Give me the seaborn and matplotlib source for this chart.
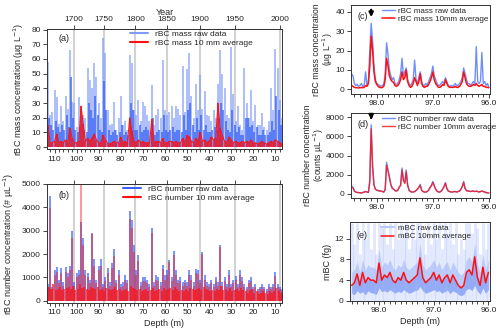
import numpy as np
import pandas as pd
import matplotlib
matplotlib.use('Agg')
import matplotlib.pyplot as plt
import seaborn as sns
from matplotlib.ticker import MultipleLocator, FormatStrFormatter

# ---- long record, one value per metre, depth 113 m -> 7 m ----
depth_ab = np.arange(113, 6, -1)

mass_raw = [58, 22, 24, 39, 34, 16, 28, 18, 35, 26,
            66, 31, 30, 14, 34, 25, 22, 20, 54, 46,
            40, 57, 48, 30, 20, 74, 64, 25, 15, 16,
            31, 12, 20, 35, 15, 18, 12, 63, 57, 25,
            22, 32, 18, 31, 28, 22, 18, 42, 15, 22,
            26, 20, 59, 25, 22, 24, 28, 20, 28, 26,
            22, 55, 24, 53, 64, 35, 20, 43, 25, 49,
            26, 38, 22, 21, 18, 25, 20, 43, 66, 50,
            40, 22, 20, 68, 36, 18, 28, 15, 12, 54,
            30, 20, 39, 18, 29, 15, 15, 23, 14, 12,
            18, 40, 25, 67, 54, 32, 20]
mass_core = [20, 15, 12, 18, 14, 10, 15, 12, 22, 14,
             48, 20, 12, 10, 14, 20, 12, 10, 30, 25,
             20, 35, 22, 12, 10, 45, 25, 12, 8, 10,
             12, 8, 10, 15, 8, 10, 8, 30, 25, 12,
             12, 15, 10, 12, 14, 12, 10, 20, 8, 10,
             12, 10, 22, 12, 10, 12, 14, 10, 12, 12,
             10, 22, 12, 25, 30, 15, 10, 20, 12, 22,
             12, 15, 10, 10, 12, 14, 12, 20, 30, 25,
             18, 12, 10, 25, 15, 10, 14, 8, 8, 20,
             20, 14, 15, 10, 14, 8, 8, 12, 8, 8,
             10, 18, 12, 35, 25, 15, 10]
mass_avg = [15, 3, 3, 4, 9, 3, 4, 3, 5, 3,
            13, 6, 3, 3, 4, 28, 16, 4, 6, 4,
            6, 9, 5, 3, 3, 8, 5, 3, 2, 3,
            4, 3, 3, 7, 3, 4, 2, 20, 11, 4,
            3, 5, 3, 4, 3, 3, 3, 19, 3, 4,
            4, 3, 6, 3, 3, 4, 4, 3, 4, 3,
            3, 6, 3, 8, 7, 4, 3, 6, 4, 10,
            4, 5, 3, 4, 7, 5, 6, 30, 13, 8,
            4, 3, 7, 5, 3, 4, 3, 3, 4, 3,
            4, 3, 5, 3, 3, 2, 3, 4, 3, 2,
            3, 4, 3, 5, 4, 3, 2]

num_raw = [700, 4500, 600, 1300, 1450, 900, 1400, 800, 1450, 1200,
           1500, 3000, 800, 1200, 1300, 3350, 2700, 1300, 1200, 900,
           2900, 1800, 900, 1500, 1800, 700, 1000, 1400, 800, 1600,
           2200, 900, 1300, 700, 800, 1100, 900, 3850, 3450, 2400,
           1300, 1950, 800, 1000, 1000, 900, 700, 3100, 800, 1100,
           1000, 800, 1550, 1100, 1300, 1750, 1000, 2150, 1300, 900,
           1000, 800, 900, 800, 1300, 1100, 800, 1350, 1300, 900,
           2100, 1100, 800, 700, 900, 700, 1000, 800, 2400, 800,
           1000, 700, 1300, 700, 900, 1050, 700, 1300, 1000, 700,
           600, 900, 1000, 600, 700, 500, 600, 700, 600, 500,
           700, 600, 700, 1250, 700, 600, 500]
num_avg = [600, 3950, 500, 1100, 1250, 750, 1200, 650, 1250, 1000,
           1300, 2700, 650, 1000, 1100, 5100, 2400, 1100, 1000, 750,
           2850, 1500, 750, 1300, 1500, 600, 850, 1200, 650, 1400,
           1900, 750, 1100, 600, 650, 900, 750, 3500, 3100, 2100,
           1100, 1700, 650, 850, 850, 750, 600, 2900, 650, 900,
           850, 650, 1350, 900, 1100, 1650, 850, 1950, 1100, 750,
           850, 650, 750, 650, 1100, 900, 650, 1200, 1150, 750,
           2000, 900, 650, 600, 750, 600, 850, 650, 2300, 650,
           850, 600, 1100, 600, 750, 900, 600, 1100, 850, 600,
           500, 750, 850, 500, 600, 400, 500, 600, 500, 400,
           600, 500, 600, 1050, 600, 500, 400]
num_core = [600, 500, 700, 450, 500, 600, 450, 500, 550, 600,
            500, 650, 450, 500, 700, 550, 600, 500, 450, 600,
            550, 500, 600, 450, 500, 400, 550, 500, 450, 500,
            600, 450, 500, 400, 450, 500, 400, 650, 550, 500,
            450, 500, 400, 450, 500, 400, 450, 550, 400, 450,
            500, 400, 550, 450, 500, 550, 450, 600, 500, 400,
            450, 400, 500, 400, 550, 500, 450, 500, 550, 450,
            600, 500, 450, 400, 450, 400, 500, 450, 650, 450,
            500, 400, 550, 400, 450, 500, 400, 550, 450, 400,
            350, 450, 500, 350, 400, 300, 350, 400, 350, 300,
            400, 350, 400, 550, 400, 350, 300]

years = [1700, 1750, 1800, 1850, 1900, 1950, 2000]
year_depth = [101.2, 87.8, 73.4, 59.0, 44.0, 28.4, 8.0]

# ---- zoomed section 98.45 -> 96.00 m, step 0.025 m ----
depth_cd = np.round(np.arange(98.45, 95.99, -0.025), 3)
c_raw = [8, 7, 3, 2, 2.5, 1.5, 2, 3, 1.5, 2,
         9, 2, 4, 20, 34, 25, 12, 5, 3, 2.5,
         2, 1.5, 2, 2.5, 8, 24, 18, 10, 7, 5,
         6, 3, 2.5, 3, 5, 8, 16, 7, 9, 11,
         5, 3, 2, 3, 5, 15, 5, 3, 6, 9,
         4, 2, 2, 3, 2, 4, 6, 8, 12, 7,
         5, 3, 2, 2, 3, 4, 3, 6, 4, 2,
         1.5, 2, 1.5, 2, 3, 2, 2, 3, 4, 6,
         11, 8, 5, 3, 3, 2, 3, 4, 3, 22,
         4, 3, 4, 19, 3, 4, 2, 3, 1]
c_avg = [2, 1.5, 1, 0.8, 0.8, 0.7, 0.8, 1, 0.8, 1,
         2, 1.5, 3, 12, 27.5, 20, 9, 4, 2.5, 1.5,
         1, 0.8, 1, 1.5, 5, 16, 12, 7, 5, 4,
         3.5, 2, 1.5, 2, 3, 5, 9, 5, 6, 10,
         4, 2, 1, 1.5, 3, 6, 4, 2, 4, 8,
         3, 1.5, 1, 1.5, 1.5, 2.5, 4, 6, 9, 5,
         3, 2, 1, 1, 1.5, 2.5, 2, 5, 3, 1.5,
         1, 1, 1, 1, 1.5, 1, 1, 1.5, 2.5, 4,
         9, 6, 3, 2, 1.5, 1.5, 2, 2.5, 2, 3,
         2, 1.5, 2, 2.5, 1.5, 1.5, 1, 1, 0.8]
d_raw = [800, 700, 300, 200, 150, 150, 120, 100, 150, 200,
         250, 200, 150, 1500, 7200, 3000, 1000, 500, 400, 350,
         300, 300, 250, 200, 500, 3300, 2500, 1800, 1000, 600,
         500, 350, 300, 400, 700, 900, 2700, 1500, 1200, 2500,
         1000, 400, 250, 200, 200, 250, 350, 500, 700, 1000,
         400, 250, 200, 200, 250, 400, 700, 900, 1300, 900,
         500, 300, 200, 200, 300, 500, 800, 1200, 600, 300,
         250, 200, 200, 250, 250, 200, 250, 300, 500, 800,
         1300, 600, 350, 300, 300, 250, 300, 300, 250, 300,
         250, 200, 250, 300, 250, 200, 150, 120, 100]
d_avg = [700, 650, 300, 200, 150, 150, 120, 100, 150, 200,
         250, 200, 150, 1200, 6800, 2800, 900, 500, 400, 350,
         300, 300, 250, 200, 450, 3000, 2400, 1700, 1000, 600,
         500, 350, 300, 400, 700, 900, 2500, 1400, 1100, 2300,
         900, 400, 250, 200, 200, 250, 350, 500, 700, 900,
         400, 250, 200, 200, 250, 400, 650, 850, 1200, 850,
         500, 300, 200, 200, 300, 500, 750, 1100, 550, 300,
         250, 200, 200, 250, 250, 200, 250, 300, 450, 750,
         1200, 550, 350, 300, 300, 250, 300, 300, 250, 300,
         250, 200, 250, 300, 250, 200, 150, 120, 100]

# ---- mBC section 98.50 -> 96.00 m, step 0.05 m ----
depth_e = np.round(np.arange(98.50, 95.99, -0.05), 2)
e_avg = [3, 3.5, 5.2, 3, 5.5, 3.5, 4.5, 4, 4, 3.5,
         7.3, 4, 5, 4.5, 5.5, 4, 3.5, 4.5, 4, 5.5,
         4, 3.5, 4, 4.5, 5, 8.3, 4.5, 3.5, 4, 4.5,
         5.5, 4, 5, 3.5, 4.5, 5, 3.5, 5, 4, 3,
         2.5, 3, 5.5, 6, 5, 8.5, 4.5, 3, 6.5, 3.5, 5.5]
e_lo = [1.5, 1.2, 2.0, 1.5, 1.8, 1.2, 2.0, 1.6, 1.5, 1.3,
        2.5, 1.8, 2.0, 1.7, 2.2, 1.8, 1.5, 1.9, 1.6, 2.2,
        1.8, 1.5, 1.7, 2.0, 2.1, 2.8, 2.0, 1.5, 1.7, 1.9,
        2.2, 1.8, 2.0, 1.5, 1.8, 2.1, 1.4, 2.0, 1.7, 1.3,
        1.0, 1.3, 2.2, 2.4, 2.0, 3.0, 1.9, 1.3, 2.5, 1.5, 2.2]
e_hi = [5.5, 6, 7.5, 5.5, 8, 6, 7, 6.5, 6.5, 6,
        10, 6.5, 7.5, 7, 8, 6.5, 6, 7, 6.5, 8,
        6.5, 6, 6.5, 7, 7.5, 11, 7, 6, 6.5, 7,
        8, 6.5, 7.5, 6, 7, 7.5, 6, 7.5, 6.5, 5.5,
        5, 5.5, 8, 8.5, 7.5, 11, 7, 5.5, 9, 6, 8]
e_top = [15, 11, 15, 9, 15, 12, 15, 10, 15, 9,
         15, 14, 15, 11, 15, 10, 15, 12, 15, 13,
         15, 10, 15, 12, 15, 15, 13, 9, 15, 11,
         15, 12, 15, 10, 15, 13, 15, 11, 15, 9,
         12, 10, 15, 15, 13, 15, 14, 9, 15, 10, 15]

BLUE = '#3A62F7'
LBLUE = '#809CF8'
RED = '#FF1010'

sns.set_style('ticks')
plt.rcParams['font.family'] = ['Liberation Sans', 'DejaVu Sans']
plt.rcParams['font.size'] = 6
plt.rcParams['axes.linewidth'] = 0.7
plt.rcParams['axes.edgecolor'] = '#333333'
plt.rcParams['xtick.major.size'] = 3
plt.rcParams['ytick.major.size'] = 3
plt.rcParams['xtick.minor.size'] = 1.8
plt.rcParams['ytick.minor.size'] = 1.8
plt.rcParams['xtick.major.width'] = 0.6
plt.rcParams['ytick.major.width'] = 0.6
plt.rcParams['xtick.labelsize'] = 6
plt.rcParams['ytick.labelsize'] = 6
plt.rcParams['legend.fontsize'] = 6

fig = plt.figure(figsize=(5, 3.35), dpi=100)
ax_a = fig.add_axes([0.094, 0.554, 0.47, 0.36])
ax_b = fig.add_axes([0.094, 0.095, 0.47, 0.356])
ax_c = fig.add_axes([0.702, 0.719, 0.278, 0.266])
ax_d = fig.add_axes([0.702, 0.409, 0.278, 0.254])
ax_e = fig.add_axes([0.700, 0.1015, 0.280, 0.236])

# ---- (a) ----
for yd in year_depth:
    ax_a.axvline(yd, color='#d2d2d2', lw=1.5, zorder=0)
    ax_b.axvline(yd, color='#d2d2d2', lw=1.5, zorder=0)
ax_a.vlines(depth_ab, 0, mass_raw, color=LBLUE, lw=1.15, alpha=0.8)
ax_a.vlines(depth_ab - 0.5, 0, mass_core, color=BLUE, lw=1.15, alpha=0.9)
ax_a.vlines(depth_ab, 0, mass_avg, color=RED, lw=1.1)
sns.lineplot(x=depth_ab, y=mass_avg, ax=ax_a, color=RED, lw=0.7)
ax_a.plot([], [], color=LBLUE, lw=1.5, label='rBC mass raw data')
ax_a.plot([], [], color=RED, lw=1.5, label='rBC mass 10 mm average')
ax_a.set_xlim(113.4, 7)
ax_a.set_ylim(-1.5, 80.5)
ax_a.yaxis.set_major_locator(MultipleLocator(10))
ax_a.set_ylabel('rBC mass concentration (µg L$^{-1}$)', fontsize=6.5)
ax_a.legend(loc='upper left', bbox_to_anchor=(0.33, 1.03), frameon=False,
            handlelength=2.2, labelspacing=0.15, borderaxespad=0.2)
ax_a.text(0.05, 0.9, '(a)', transform=ax_a.transAxes, fontsize=6.5)

# ---- (b) ----
ax_b.vlines(depth_ab, 0, num_raw, color=BLUE, lw=1.2, alpha=0.8)
ax_b.vlines(depth_ab, 0, num_avg, color=RED, lw=1.1, alpha=0.55)
ax_b.vlines(depth_ab - 0.5, 0, num_core, color=RED, lw=1.2, alpha=0.85)
ax_b.plot([], [], color=BLUE, lw=1.5, label='rBC number raw data')
ax_b.plot([], [], color=RED, lw=1.5, label='rBC number 10 mm average')
ax_b.set_xlim(113.4, 7)
ax_b.set_ylim(-100, 5000)
ax_b.yaxis.set_major_locator(MultipleLocator(1000))
ax_b.set_ylabel('rBC number concentration (# µL$^{-1}$)', fontsize=6.5)
ax_b.set_xlabel('Depth (m)', fontsize=6.5, labelpad=2)
ax_b.legend(loc='upper left', bbox_to_anchor=(0.30, 1.03), frameon=False,
            handlelength=2.2, labelspacing=0.15, borderaxespad=0.2)
ax_b.text(0.05, 0.88, '(b)', transform=ax_b.transAxes, fontsize=6.5)

for ax in (ax_a, ax_b):
    ax.xaxis.set_major_locator(MultipleLocator(10))
    ax.xaxis.set_minor_locator(MultipleLocator(2))
    ax.tick_params(axis='both', which='both', direction='out', pad=1.5)
    sec = ax.secondary_xaxis('top')
    sec.set_xticks(year_depth)
    sec.tick_params(direction='out', length=3, pad=1)
    if ax is ax_a:
        sec.set_xticklabels([str(y) for y in years])
        sec.set_xlabel('Year', fontsize=6.5, labelpad=1)
    else:
        sec.set_xticklabels([])

# ---- (c) ----
df_c = pd.DataFrame({'depth': depth_cd, 'raw': c_raw, 'avg': c_avg})
sns.lineplot(data=df_c, x='depth', y='raw', ax=ax_c, color='#6F8EFA', lw=1.0,
             label='rBC mass raw data')
sns.lineplot(data=df_c, x='depth', y='avg', ax=ax_c, color=RED, lw=1.1,
             label='rBC mass 10mm average')
ax_c.set_xlim(98.46, 95.98)
ax_c.set_ylim(-2.5, 43.5)
ax_c.yaxis.set_major_locator(MultipleLocator(10))
ax_c.set_ylabel('rBC mass concentration\n(µg L$^{-1}$)', fontsize=6.2,
                labelpad=0, linespacing=0.95)
pk = depth_cd[int(np.argmax(c_raw))]
ax_c.annotate('', xy=(pk, 35.8), xytext=(pk, 42.5),
              arrowprops=dict(arrowstyle='-|>', color='k', lw=1.6, mutation_scale=6))
ax_c.text(0.045, 0.84, '(c)', transform=ax_c.transAxes, fontsize=6.5)

# ---- (d) ----
df_d = pd.DataFrame({'depth': depth_cd, 'raw': d_raw, 'avg': d_avg})
sns.lineplot(data=df_d, x='depth', y='raw', ax=ax_d, color='#6F8EFA', lw=1.0,
             label='rBC number raw data')
sns.lineplot(data=df_d, x='depth', y='avg', ax=ax_d, color=RED, lw=1.0, alpha=0.8,
             label='rBC number 10mm average')
ax_d.set_xlim(98.46, 95.98)
ax_d.set_ylim(-420, 8450)
ax_d.yaxis.set_major_locator(MultipleLocator(2000))
ax_d.set_ylabel('rBC number concentration\n(counts µL$^{-1}$)', fontsize=6.2,
                labelpad=0, linespacing=0.95)
pk_d = depth_cd[int(np.argmax(d_raw))]
ax_d.annotate('', xy=(pk_d, 7450), xytext=(pk_d, 8450),
              arrowprops=dict(arrowstyle='-|>', color='k', lw=1.6, mutation_scale=6))
ax_d.text(0.045, 0.83, '(d)', transform=ax_d.transAxes, fontsize=6.5)

# ---- (e) ----
ax_e.vlines(depth_e, 0, e_top, color='#A9BCFA', lw=2.0, alpha=0.35)
ax_e.fill_between(depth_e, e_lo, e_hi, color='#8FA7F9', alpha=0.5, lw=0)
ax_e.fill_between(depth_e, e_lo, e_avg, color='#5C80F6', alpha=0.55, lw=0)
ax_e.plot([], [], color='#B9C8FB', lw=1.5, label='mBC raw data')
df_e = pd.DataFrame({'depth': depth_e, 'avg': e_avg})
sns.lineplot(data=df_e, x='depth', y='avg', ax=ax_e, color=RED, lw=1.1,
             label='mBC 10mm average')
ax_e.set_xlim(98.53, 95.97)
ax_e.set_ylim(0, 15.2)
ax_e.yaxis.set_major_locator(MultipleLocator(4))
ax_e.set_ylabel('mBC (fg)', fontsize=6.5, labelpad=2)
ax_e.set_xlabel('Depth (m)', fontsize=6.5, labelpad=2)
ax_e.text(0.045, 0.8, '(e)', transform=ax_e.transAxes, fontsize=6.5)

for ax in (ax_c, ax_d, ax_e):
    ax.xaxis.set_major_locator(MultipleLocator(1.0))
    ax.xaxis.set_minor_locator(MultipleLocator(0.1))
    ax.xaxis.set_major_formatter(FormatStrFormatter('%.1f'))
    ax.tick_params(axis='both', which='both', direction='out', pad=1.5)
    if ax is not ax_e:
        ax.set_xlabel('')
    ax.legend(loc='upper left', bbox_to_anchor=(0.19, 1.03), frameon=False,
              handlelength=1.6, handletextpad=0.4, labelspacing=0.1,
              borderaxespad=0.2, fontsize=5.8)

fig.savefig('out.png', dpi=100)
